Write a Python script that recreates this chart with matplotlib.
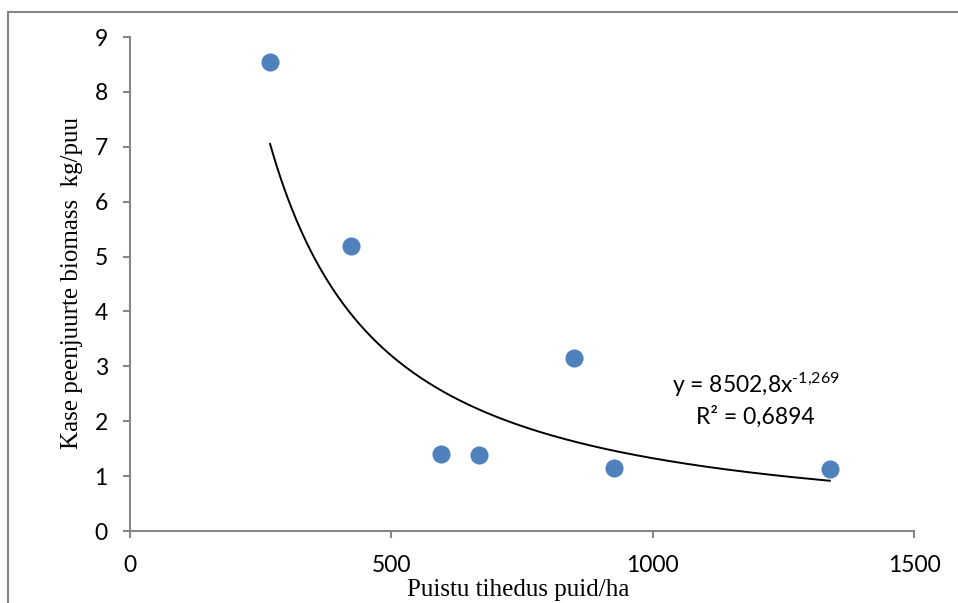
import numpy as np
import matplotlib.pyplot as plt
from matplotlib.patches import Rectangle

# stand density (trees/ha) and birch fine root biomass (kg/tree)
density = [268, 423, 595, 668, 849, 926, 1339]
biomass = [8.54, 5.19, 1.40, 1.38, 3.15, 1.15, 1.13]

# power trend y = a * x^b
coef_a = 8502.8
coef_b = -1.269
eq_label = r'$\text{y = 8502,8x}^{\text{-1,269}}$'
r2_label = 'R² = 0,6894'

x_ticks = [0, 500, 1000, 1500]
y_ticks = list(range(10))

gray = '#868686'
blue = '#4F81BD'
sans = ['Lato', 'DejaVu Sans']
serif = 'Liberation Serif'

plt.rcParams['mathtext.fontset'] = 'custom'
plt.rcParams['mathtext.rm'] = 'Lato'
plt.rcParams['mathtext.it'] = 'Lato'

fig = plt.figure(figsize=(9.58, 6.03), dpi=100)
ax = fig.add_axes([130 / 958, 1 - 531 / 603, 784 / 958, 494 / 603])

# outer chart frame (cropped on the right and bottom)
fig.patches.append(Rectangle((8 / 958, -0.1), 1.2, 1.1 - 12 / 603,
                             transform=fig.transFigure, fill=False,
                             edgecolor=gray, linewidth=1.5))

ax.scatter(density, biomass, s=170, color=blue, zorder=3, linewidths=0)

xs = np.linspace(min(density), max(density), 300)
ax.plot(xs, coef_a * xs ** coef_b, color='black', linewidth=1.4, zorder=2)

ax.set_xlim(0, 1500)
ax.set_ylim(0, 9)
ax.set_xticks(x_ticks)
ax.set_yticks(y_ticks)

for s in ['top', 'right']:
    ax.spines[s].set_visible(False)
for s in ['left', 'bottom']:
    ax.spines[s].set_color(gray)
    ax.spines[s].set_linewidth(1.5)
ax.tick_params(axis='both', direction='out', length=5, width=1.5,
               color=gray, labelsize=16.5)
ax.tick_params(axis='x', pad=12)
ax.tick_params(axis='y', pad=11)
for lab in ax.get_xticklabels() + ax.get_yticklabels():
    lab.set_family(sans)

ax.text(0.798, 0.2955, eq_label, transform=ax.transAxes, ha='center',
        va='center', fontsize=16.5, family=sans)
ax.text(0.798, 0.2308, r2_label, transform=ax.transAxes, ha='center',
        va='center', fontsize=16.5, family=sans)

fig.text(518 / 958, 1 - 590 / 603, 'Puistu tihedus puid/ha', ha='center',
         va='center', fontsize=18, family=serif)
fig.text(72 / 958, 1 - 283 / 603, 'Kase peenjuurte biomass  kg/puu',
         ha='center', va='center', rotation=90, fontsize=18, family=serif)

fig.savefig('out.png', dpi=100)
